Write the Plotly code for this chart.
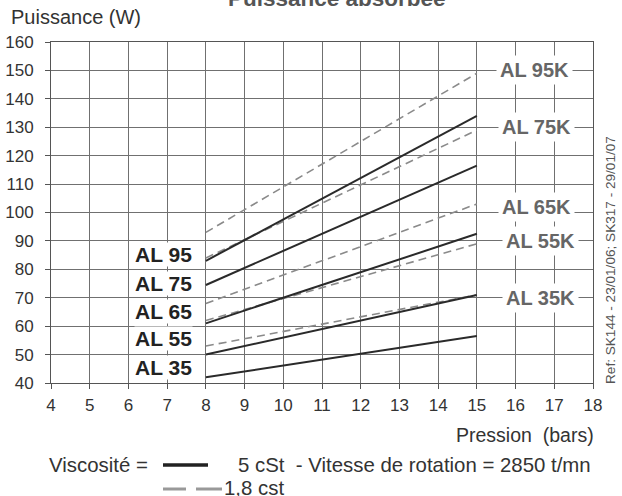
import plotly.graph_objects as go

# ---------------- data ----------------
pressure = [8, 15]  # bars, start/end of each curve

models_5cst = ["AL 35", "AL 55", "AL 65", "AL 75", "AL 95"]
power_5cst_at8 = [42, 50, 61, 74.5, 83]
power_5cst_at15 = [56.5, 71, 92.5, 116.5, 134]

models_18cst = ["AL 35K", "AL 55K", "AL 65K", "AL 75K", "AL 95K"]
power_18cst_at8 = [53, 62, 68, 84, 93]
power_18cst_at15 = [71, 89, 103, 129, 149]

x_ticks = list(range(4, 19))
y_ticks = list(range(40, 161, 10))

FONT = "Liberation Sans, Arial, Helvetica, sans-serif"

fig = go.Figure()

for name, a, b in zip(models_18cst, power_18cst_at8, power_18cst_at15):
    fig.add_trace(go.Scatter(x=pressure, y=[a, b], mode="lines", name=name,
                             line=dict(color="#8a8a8a", width=1.6, dash="8px,5px")))
for name, a, b in zip(models_5cst, power_5cst_at8, power_5cst_at15):
    fig.add_trace(go.Scatter(x=pressure, y=[a, b], mode="lines", name=name,
                             line=dict(color="#2a2a2a", width=2)))

annotations = []
# left labels (5 cSt)
left_label_y = [45.6, 55.8, 65.3, 75, 85.3]
for name, yy in zip(models_5cst, left_label_y):
    annotations.append(dict(x=7.66, y=yy, xref="x", yref="y", text="<b>" + name + "</b>",
                            showarrow=False, xanchor="right", yanchor="middle",
                            bgcolor="white", borderpad=0,
                            font=dict(family=FONT, size=21, color="#222")))
# right labels (1,8 cSt)
right_label_pos = [(16.65, 70), (16.65, 90), (16.55, 102), (16.55, 130), (16.5, 150)]
for name, (xx, yy) in zip(models_18cst, right_label_pos):
    annotations.append(dict(x=xx, y=yy, xref="x", yref="y", text="<b>" + name + "</b>",
                            showarrow=False, xanchor="center", yanchor="middle",
                            bgcolor="white", borderpad=3,
                            font=dict(family=FONT, size=20, color="#666")))

H = 341.0
W = 542.0
def py(pix):  # pixel y (from top of page) -> paper y
    return 1 + (42 - pix) / H
def px(pix):
    return (pix - 51) / W

LEG = 20.4
annotations += [
    dict(x=px(337), y=py(-2), xref="paper", yref="paper", text="<b>Puissance absorbée</b>",
         showarrow=False, xanchor="center", yanchor="middle",
         font=dict(family=FONT, size=22.5, color="#555")),
    dict(x=px(9), y=py(17), xref="paper", yref="paper", text="Puissance (W)",
         showarrow=False, xanchor="left", yanchor="middle",
         font=dict(family=FONT, size=20, color="#333")),
    dict(x=px(596), y=py(435), xref="paper", yref="paper", text="Pression&nbsp;&nbsp;(bars)",
         showarrow=False, xanchor="right", yanchor="middle",
         font=dict(family=FONT, size=19.5, color="#333")),
    dict(x=px(47), y=py(465), xref="paper", yref="paper", text="Viscosité =",
         showarrow=False, xanchor="left", yanchor="middle",
         font=dict(family=FONT, size=LEG, color="#333")),
    dict(x=px(236), y=py(465), xref="paper", yref="paper",
         text="5 cSt&nbsp;&nbsp;- Vitesse de rotation = 2850 t/mn",
         showarrow=False, xanchor="left", yanchor="middle",
         font=dict(family=FONT, size=LEG, color="#333")),
    dict(x=px(222), y=py(488), xref="paper", yref="paper", text="1,8 cst",
         showarrow=False, xanchor="left", yanchor="middle",
         font=dict(family=FONT, size=LEG, color="#333")),
    dict(x=px(610), y=py(260), xref="paper", yref="paper",
         text="Ref: SK144 - 23/01/06; SK317 - 29/01/07",
         showarrow=False, xanchor="center", yanchor="middle", textangle=-90,
         font=dict(family=FONT, size=13.6, color="#555")),
]

shapes = [
    dict(type="line", xref="paper", yref="paper", x0=px(163), x1=px(208), y0=py(465), y1=py(465),
         line=dict(color="#222", width=3.5)),
    dict(type="line", xref="paper", yref="paper", x0=px(163), x1=px(186), y0=py(489), y1=py(489),
         line=dict(color="#999", width=3)),
    dict(type="line", xref="paper", yref="paper", x0=px(196), x1=px(222), y0=py(489), y1=py(489),
         line=dict(color="#999", width=3)),
]

axis_common = dict(showgrid=True, gridcolor="#707070", gridwidth=1, zeroline=False,
                   showline=True, linecolor="#555", linewidth=1, mirror=True,
                   ticks="outside", ticklen=5, tickcolor="#555", automargin=False,
                   tickfont=dict(family=FONT, size=17, color="#333"))

fig.update_layout(
    width=622, height=496,
    margin=dict(l=51, r=29, t=42, b=113),
    paper_bgcolor="white", plot_bgcolor="white",
    showlegend=False,
    xaxis=dict(range=[4, 18], tickvals=x_ticks, ticklabelstandoff=2, **axis_common),
    yaxis=dict(range=[40, 160], tickvals=y_ticks, ticklabelstandoff=8, **axis_common),
    annotations=annotations,
    shapes=shapes,
)

fig.write_html("out.html", config={"displayModeBar": False},
               post_script="document.body.style.margin='0px';")
